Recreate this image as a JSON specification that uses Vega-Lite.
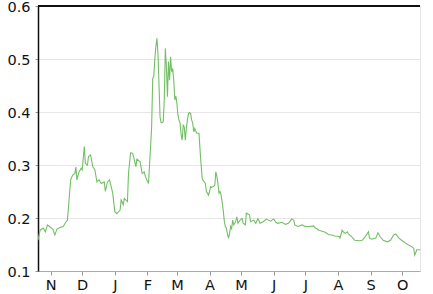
{
  "$schema": "https://vega.github.io/schema/vega-lite/v6.json",
  "width": 382,
  "height": 265,
  "autosize": {"type": "none"},
  "padding": {"left": 38, "top": 6, "right": 13, "bottom": 23},
  "background": "white",
  "config": {
    "view": {"stroke": "#e4e4e4", "strokeWidth": 1},
    "font": "DejaVu Sans"
  },
  "data": {
    "values": [
      {"date": "2018-10-20", "v": 0.158},
      {"date": "2018-10-22", "v": 0.177},
      {"date": "2018-10-25", "v": 0.181},
      {"date": "2018-10-27", "v": 0.174},
      {"date": "2018-10-29", "v": 0.187},
      {"date": "2018-11-01", "v": 0.182},
      {"date": "2018-11-03", "v": 0.179},
      {"date": "2018-11-05", "v": 0.168},
      {"date": "2018-11-07", "v": 0.179},
      {"date": "2018-11-10", "v": 0.182},
      {"date": "2018-11-13", "v": 0.184},
      {"date": "2018-11-15", "v": 0.191},
      {"date": "2018-11-17", "v": 0.196},
      {"date": "2018-11-18", "v": 0.221},
      {"date": "2018-11-20", "v": 0.272},
      {"date": "2018-11-22", "v": 0.281},
      {"date": "2018-11-24", "v": 0.284},
      {"date": "2018-11-25", "v": 0.296},
      {"date": "2018-11-26", "v": 0.272},
      {"date": "2018-11-28", "v": 0.287},
      {"date": "2018-11-30", "v": 0.294},
      {"date": "2018-12-01", "v": 0.291},
      {"date": "2018-12-03", "v": 0.335},
      {"date": "2018-12-04", "v": 0.303},
      {"date": "2018-12-06", "v": 0.300},
      {"date": "2018-12-07", "v": 0.316},
      {"date": "2018-12-09", "v": 0.319},
      {"date": "2018-12-11", "v": 0.297},
      {"date": "2018-12-13", "v": 0.291},
      {"date": "2018-12-15", "v": 0.268},
      {"date": "2018-12-17", "v": 0.272},
      {"date": "2018-12-19", "v": 0.265},
      {"date": "2018-12-22", "v": 0.268},
      {"date": "2018-12-23", "v": 0.250},
      {"date": "2018-12-25", "v": 0.268},
      {"date": "2018-12-27", "v": 0.272},
      {"date": "2018-12-30", "v": 0.247},
      {"date": "2019-01-01", "v": 0.212},
      {"date": "2019-01-03", "v": 0.208},
      {"date": "2019-01-06", "v": 0.215},
      {"date": "2019-01-07", "v": 0.234},
      {"date": "2019-01-09", "v": 0.225},
      {"date": "2019-01-10", "v": 0.237},
      {"date": "2019-01-13", "v": 0.231},
      {"date": "2019-01-14", "v": 0.284},
      {"date": "2019-01-16", "v": 0.323},
      {"date": "2019-01-18", "v": 0.322},
      {"date": "2019-01-21", "v": 0.297},
      {"date": "2019-01-22", "v": 0.311},
      {"date": "2019-01-25", "v": 0.306},
      {"date": "2019-01-27", "v": 0.284},
      {"date": "2019-01-29", "v": 0.287},
      {"date": "2019-01-30", "v": 0.278},
      {"date": "2019-02-02", "v": 0.265},
      {"date": "2019-02-03", "v": 0.300},
      {"date": "2019-02-04", "v": 0.335},
      {"date": "2019-02-05", "v": 0.372},
      {"date": "2019-02-06", "v": 0.463},
      {"date": "2019-02-07", "v": 0.467},
      {"date": "2019-02-08", "v": 0.500},
      {"date": "2019-02-09", "v": 0.523},
      {"date": "2019-02-10", "v": 0.539},
      {"date": "2019-02-11", "v": 0.510},
      {"date": "2019-02-12", "v": 0.450},
      {"date": "2019-02-13", "v": 0.390},
      {"date": "2019-02-14", "v": 0.380},
      {"date": "2019-02-15", "v": 0.380},
      {"date": "2019-02-16", "v": 0.382},
      {"date": "2019-02-17", "v": 0.423},
      {"date": "2019-02-18", "v": 0.520},
      {"date": "2019-02-19", "v": 0.486},
      {"date": "2019-02-20", "v": 0.429},
      {"date": "2019-02-21", "v": 0.495},
      {"date": "2019-02-22", "v": 0.460},
      {"date": "2019-02-23", "v": 0.504},
      {"date": "2019-02-24", "v": 0.476},
      {"date": "2019-02-25", "v": 0.482},
      {"date": "2019-02-26", "v": 0.460},
      {"date": "2019-02-27", "v": 0.423},
      {"date": "2019-02-28", "v": 0.430},
      {"date": "2019-03-01", "v": 0.416},
      {"date": "2019-03-02", "v": 0.394},
      {"date": "2019-03-03", "v": 0.385},
      {"date": "2019-03-04", "v": 0.379},
      {"date": "2019-03-05", "v": 0.357},
      {"date": "2019-03-06", "v": 0.347},
      {"date": "2019-03-07", "v": 0.375},
      {"date": "2019-03-08", "v": 0.372},
      {"date": "2019-03-09", "v": 0.347},
      {"date": "2019-03-10", "v": 0.370},
      {"date": "2019-03-11", "v": 0.385},
      {"date": "2019-03-12", "v": 0.397},
      {"date": "2019-03-13", "v": 0.399},
      {"date": "2019-03-14", "v": 0.397},
      {"date": "2019-03-15", "v": 0.385},
      {"date": "2019-03-16", "v": 0.379},
      {"date": "2019-03-17", "v": 0.363},
      {"date": "2019-03-18", "v": 0.369},
      {"date": "2019-03-19", "v": 0.363},
      {"date": "2019-03-20", "v": 0.360},
      {"date": "2019-03-21", "v": 0.360},
      {"date": "2019-03-22", "v": 0.360},
      {"date": "2019-03-23", "v": 0.328},
      {"date": "2019-03-24", "v": 0.300},
      {"date": "2019-03-25", "v": 0.275},
      {"date": "2019-03-26", "v": 0.270},
      {"date": "2019-03-27", "v": 0.268},
      {"date": "2019-03-28", "v": 0.265},
      {"date": "2019-03-29", "v": 0.250},
      {"date": "2019-03-30", "v": 0.247},
      {"date": "2019-03-31", "v": 0.243},
      {"date": "2019-04-01", "v": 0.250},
      {"date": "2019-04-02", "v": 0.259},
      {"date": "2019-04-03", "v": 0.258},
      {"date": "2019-04-04", "v": 0.259},
      {"date": "2019-04-05", "v": 0.260},
      {"date": "2019-04-06", "v": 0.262},
      {"date": "2019-04-07", "v": 0.287},
      {"date": "2019-04-08", "v": 0.278},
      {"date": "2019-04-09", "v": 0.265},
      {"date": "2019-04-10", "v": 0.247},
      {"date": "2019-04-11", "v": 0.250},
      {"date": "2019-04-12", "v": 0.243},
      {"date": "2019-04-13", "v": 0.230},
      {"date": "2019-04-14", "v": 0.215},
      {"date": "2019-04-15", "v": 0.195},
      {"date": "2019-04-16", "v": 0.184},
      {"date": "2019-04-17", "v": 0.181},
      {"date": "2019-04-18", "v": 0.170},
      {"date": "2019-04-19", "v": 0.162},
      {"date": "2019-04-20", "v": 0.170},
      {"date": "2019-04-21", "v": 0.184},
      {"date": "2019-04-22", "v": 0.180},
      {"date": "2019-04-23", "v": 0.196},
      {"date": "2019-04-24", "v": 0.187},
      {"date": "2019-04-25", "v": 0.190},
      {"date": "2019-04-26", "v": 0.195},
      {"date": "2019-04-27", "v": 0.202},
      {"date": "2019-04-28", "v": 0.190},
      {"date": "2019-04-29", "v": 0.193},
      {"date": "2019-04-30", "v": 0.196},
      {"date": "2019-05-02", "v": 0.199},
      {"date": "2019-05-03", "v": 0.190},
      {"date": "2019-05-05", "v": 0.187},
      {"date": "2019-05-06", "v": 0.209},
      {"date": "2019-05-09", "v": 0.206},
      {"date": "2019-05-10", "v": 0.193},
      {"date": "2019-05-13", "v": 0.196},
      {"date": "2019-05-15", "v": 0.190},
      {"date": "2019-05-17", "v": 0.199},
      {"date": "2019-05-19", "v": 0.190},
      {"date": "2019-05-22", "v": 0.193},
      {"date": "2019-05-25", "v": 0.198},
      {"date": "2019-05-29", "v": 0.194},
      {"date": "2019-06-01", "v": 0.198},
      {"date": "2019-06-03", "v": 0.192},
      {"date": "2019-06-05", "v": 0.190},
      {"date": "2019-06-09", "v": 0.192},
      {"date": "2019-06-12", "v": 0.188},
      {"date": "2019-06-15", "v": 0.190},
      {"date": "2019-06-18", "v": 0.198},
      {"date": "2019-06-20", "v": 0.196},
      {"date": "2019-06-21", "v": 0.187},
      {"date": "2019-06-24", "v": 0.184},
      {"date": "2019-06-28", "v": 0.187},
      {"date": "2019-07-01", "v": 0.184},
      {"date": "2019-07-04", "v": 0.184},
      {"date": "2019-07-09", "v": 0.185},
      {"date": "2019-07-10", "v": 0.182},
      {"date": "2019-07-14", "v": 0.177},
      {"date": "2019-07-17", "v": 0.175},
      {"date": "2019-07-20", "v": 0.173},
      {"date": "2019-07-23", "v": 0.169},
      {"date": "2019-07-26", "v": 0.168},
      {"date": "2019-07-29", "v": 0.166},
      {"date": "2019-08-02", "v": 0.165},
      {"date": "2019-08-03", "v": 0.162},
      {"date": "2019-08-05", "v": 0.177},
      {"date": "2019-08-06", "v": 0.174},
      {"date": "2019-08-08", "v": 0.171},
      {"date": "2019-08-10", "v": 0.174},
      {"date": "2019-08-11", "v": 0.170},
      {"date": "2019-08-14", "v": 0.165},
      {"date": "2019-08-17", "v": 0.158},
      {"date": "2019-08-21", "v": 0.157},
      {"date": "2019-08-24", "v": 0.158},
      {"date": "2019-08-27", "v": 0.165},
      {"date": "2019-08-30", "v": 0.174},
      {"date": "2019-08-31", "v": 0.162},
      {"date": "2019-09-02", "v": 0.160},
      {"date": "2019-09-06", "v": 0.162},
      {"date": "2019-09-08", "v": 0.172},
      {"date": "2019-09-10", "v": 0.165},
      {"date": "2019-09-13", "v": 0.158},
      {"date": "2019-09-17", "v": 0.155},
      {"date": "2019-09-20", "v": 0.158},
      {"date": "2019-09-23", "v": 0.168},
      {"date": "2019-09-25", "v": 0.170},
      {"date": "2019-09-28", "v": 0.162},
      {"date": "2019-10-01", "v": 0.157},
      {"date": "2019-10-04", "v": 0.153},
      {"date": "2019-10-07", "v": 0.149},
      {"date": "2019-10-10", "v": 0.146},
      {"date": "2019-10-12", "v": 0.143},
      {"date": "2019-10-13", "v": 0.130},
      {"date": "2019-10-15", "v": 0.140},
      {"date": "2019-10-18", "v": 0.140}
    ]
  },
  "layer": [
    {
      "mark": {"type": "line", "color": "#72bf65", "strokeWidth": 1.1, "clip": true},
      "encoding": {
        "x": {
          "field": "date",
          "type": "temporal",
          "scale": {
            "type": "utc",
            "domain": [
              {"year": 2018, "month": 10, "date": 20, "utc": true},
              {"year": 2019, "month": 10, "date": 18, "utc": true}
            ]
          },
          "axis": {
            "title": null,
            "grid": false,
            "tickCount": {"interval": "month", "step": 1},
            "labelExpr": "slice(utcFormat(datum.value, '%b'), 0, 1)",
            "labelFlush": false,
            "labelOverlap": false,
            "labelFontSize": 14.5,
            "labelColor": "#111111",
            "labelPadding": 3,
            "domainColor": "#aaaaaa",
            "tickColor": "#999999",
            "tickSize": 4
          }
        },
        "y": {
          "field": "v",
          "type": "quantitative",
          "scale": {"domain": [0.1, 0.6], "nice": false, "zero": false},
          "axis": {
            "title": null,
            "values": [0.1, 0.2, 0.3, 0.4, 0.5, 0.6],
            "format": ".1f",
            "grid": true,
            "gridColor": "#e6e6e6",
            "labelFontSize": 14.5,
            "labelColor": "#111111",
            "labelPadding": 5,
            "labelFlush": false,
            "labelOffset": 1,
            "domainColor": "#111111",
            "domainWidth": 1.5,
            "tickColor": "#999999",
            "tickSize": 3
          }
        }
      }
    },
    {
      "mark": {"type": "rule", "color": "#111111", "strokeWidth": 1.5},
      "encoding": {"y": {"datum": 0.6}}
    }
  ]
}
